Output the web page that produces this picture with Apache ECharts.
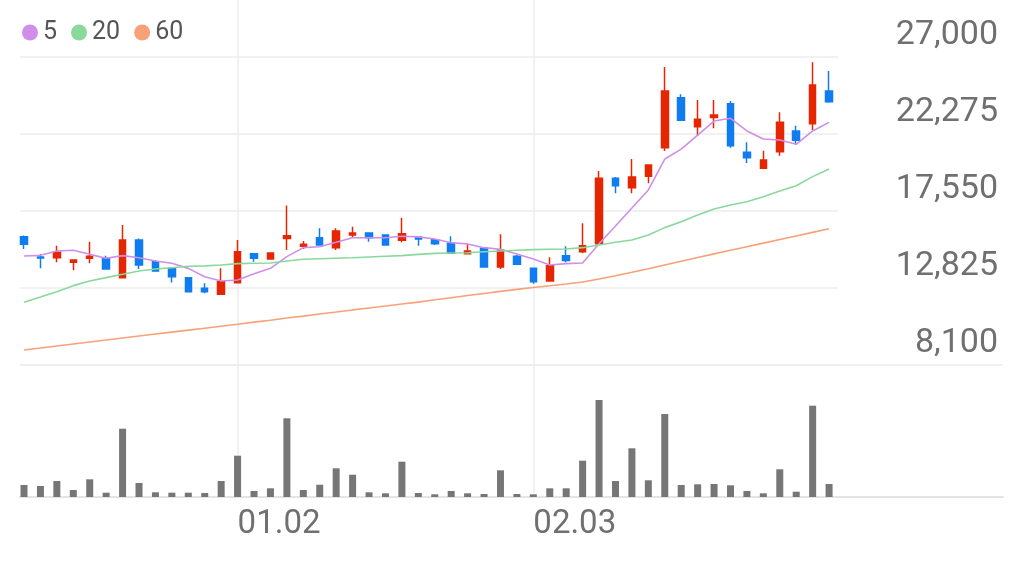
<!DOCTYPE html>
<html>
<head>
<meta charset="utf-8">
<script src="https://cdn.jsdelivr.net/npm/echarts@6/dist/echarts.min.js"></script>
<style>
html,body{margin:0;padding:0;background:#fff;}
#chart{width:1018px;height:562px;}
</style>
</head>
<body>
<div id="chart"></div>
<script>
const dates = ['12.11','12.12','12.13','12.16','12.17','12.18','12.19','12.20','12.23','12.24','12.26','12.27','12.30',
  '01.02','01.03','01.06','01.07','01.08','01.09','01.10','01.13','01.14','01.15','01.16','01.17','01.20','01.21','01.22','01.23','01.24','01.31',
  '02.03','02.04','02.05','02.06','02.07','02.10','02.11','02.12','02.13','02.14','02.17','02.18','02.19','02.20','02.21','02.24','02.25','02.26','02.27'];
const labelDates = ['01.02','02.03'];
const priceTicks = [8100, 12825, 17550, 22275, 27000];

const openP  = [15970,14730,14680,14400,14650,14650,13460,15770,14440,14030,13460,12810,12440,13150,14930,14600,15870,15380,15910,15300,16080,16200,16080,15750,15960,15790,15570,14930,15260,14110,14770,14030,13250,14810,15050,15540,19560,18980,19680,21430,24500,22720,23280,24130,21150,20170,21190,22460,22910,24910];
const closeP = [15510,14670,15020,14540,14770,13990,15770,14240,13870,13520,12600,12600,13210,15050,14650,14970,16030,15510,15460,16320,16200,15910,15460,16160,15830,15540,14950,15100,14110,15140,14280,13210,14190,14520,15420,19560,19100,19640,20370,24910,23120,23180,23440,21560,20820,20680,22990,21890,25280,24260];
const lowP   = [15220,14030,14400,13910,14340,13970,13440,13990,13850,13170,12560,12500,12430,13110,14440,14590,15160,15220,15450,15160,15910,15670,15420,15630,15420,15460,14910,14920,14100,13990,14270,13090,13240,14400,14970,15530,18640,18640,19250,21230,23110,22150,22630,21430,20500,20160,20940,21640,22500,24200];
const highP  = [16050,14910,15420,14550,15670,14810,16690,15870,14540,14050,13470,13110,14030,15770,14940,14980,17880,15710,16490,16490,16590,16210,16120,17140,15970,15800,16000,15510,15340,16120,14850,14050,14710,15380,16800,20000,19640,20740,20380,26390,24710,24360,24360,24300,21770,21250,23610,22780,26680,26140];

const ma5  = [14790,14830,15100,15140,14890,14650,14810,14680,14480,14340,14030,13520,13250,13320,13700,14030,14750,15300,15360,15630,15910,15910,15910,16000,15960,15830,15600,15530,15300,15200,14910,14600,14240,14320,14360,15540,16630,17730,18840,20740,21350,22210,23070,23240,22460,21970,21910,21640,22460,22990];
const ma20 = [11950,12270,12600,12970,13250,13460,13670,13870,13990,14070,14160,14180,14240,14320,14340,14360,14480,14590,14620,14650,14680,14730,14770,14810,14890,14950,14970,14990,15050,15100,15140,15180,15200,15220,15300,15460,15630,15770,16080,16530,16890,17310,17670,17920,18120,18430,18780,19100,19660,20130];
const ma60 = [9020,9140,9270,9390,9510,9630,9760,9880,10000,10120,10240,10360,10480,10600,10730,10850,10980,11100,11230,11350,11480,11600,11720,11840,11960,12100,12230,12360,12490,12620,12740,12860,12960,13070,13190,13380,13580,13790,14010,14240,14470,14700,14920,15140,15360,15580,15800,16020,16240,16460];

const volume = [120000,110000,160000,70000,177000,43000,683000,140000,47000,43000,43000,40000,160000,413000,60000,87000,787000,70000,123000,287000,223000,47000,37000,353000,40000,27000,60000,37000,30000,267000,30000,27000,87000,87000,363000,970000,160000,487000,167000,830000,120000,127000,130000,117000,60000,37000,277000,53000,913000,130000];

const UP = '#e52600', DOWN = '#0f7cf0';
const C5 = '#d08ee8', C20 = '#8ad89c', C60 = '#f8a179';
const GRIDC = '#ececec';
const TXT = '#707070';

const candles = dates.map((d, i) => [openP[i], closeP[i], lowP[i], highP[i]]);

const band = 16.43;
const nCat = dates.length;
const plotLeft = 24 - band / 2;
const plotW = band * nCat;

const chart = echarts.init(document.getElementById('chart'), null, {renderer: 'canvas'});
chart.setOption({
  animation: false,
  backgroundColor: '#fff',
  textStyle: {fontFamily: 'Roboto'},
  legend: {
    left: 17, top: 15,
    itemWidth: 16, itemHeight: 16, itemGap: 14,
    textStyle: {fontSize: 25, color: '#555', fontFamily: 'Roboto'},
    data: [{name: '5', icon: 'circle'}, {name: '20', icon: 'circle'}, {name: '60', icon: 'circle'}],
    selectedMode: false
  },
  grid: [
    {left: plotLeft, width: plotW, top: 57, height: 308},
    {left: plotLeft, width: plotW, top: 365, height: 132},
    {left: 20, width: 818, top: 57, height: 308},
    {left: 20, right: 15, top: 365, height: 132},
    {left: 24, width: band * (nCat - 1), top: 0, height: 497}
  ],
  xAxis: [
    {type: 'category', gridIndex: 0, data: dates, boundaryGap: true, show: false},
    {type: 'category', gridIndex: 1, data: dates, boundaryGap: true,
      axisLine: {show: false}, axisTick: {show: false}, splitLine: {show: false},
      axisLabel: {
        interval: (idx, val) => labelDates.includes(val),
        align: 'left', margin: 11, fontSize: 33, color: TXT, fontFamily: 'Roboto'
      }
    },
    {type: 'value', gridIndex: 2, show: false, min: 0, max: 1},
    {type: 'value', gridIndex: 3, min: 0, max: 1, position: 'bottom',
      axisLine: {show: true, lineStyle: {color: '#e4e4e4', width: 2}},
      axisTick: {show: false}, axisLabel: {show: false}, splitLine: {show: false}},
    {type: 'category', gridIndex: 4, data: dates, boundaryGap: false,
      axisLine: {show: false}, axisTick: {show: false}, axisLabel: {show: false},
      splitLine: {show: true, interval: (idx, val) => labelDates.includes(val),
        lineStyle: {color: GRIDC, width: 1.5}}}
  ],
  yAxis: [
    {type: 'value', gridIndex: 0, min: priceTicks[0], max: priceTicks[priceTicks.length - 1], show: false},
    {type: 'value', gridIndex: 1, min: 0, max: 1320000, show: false},
    {type: 'value', gridIndex: 2, position: 'right',
      min: priceTicks[0], max: priceTicks[priceTicks.length - 1], interval: priceTicks[1] - priceTicks[0],
      axisLine: {show: false}, axisTick: {show: false},
      splitLine: {show: true, lineStyle: {color: GRIDC, width: 1.5}},
      axisLabel: {
        align: 'right', margin: 160, verticalAlign: 'bottom', padding: [0, 0, 5, 0],
        fontSize: 34, color: TXT, fontFamily: 'Roboto',
        formatter: v => v.toLocaleString('en-US')
      }
    },
    {type: 'value', gridIndex: 3, min: 0, max: 1, interval: 1, show: true,
      axisLine: {show: false}, axisTick: {show: false}, axisLabel: {show: false},
      splitLine: {show: true, lineStyle: {color: GRIDC, width: 1.5}}},
    {type: 'value', gridIndex: 4, min: 0, max: 1, show: false}
  ],
  series: [
    {
      type: 'candlestick', name: 'price', xAxisIndex: 0, yAxisIndex: 0,
      data: candles, barWidth: 7,
      itemStyle: {color: UP, color0: DOWN, borderColor: UP, borderColor0: DOWN, borderWidth: 1.5},
      z: 3
    },
    {type: 'line', name: '5', xAxisIndex: 0, yAxisIndex: 0, data: ma5, showSymbol: false,
      lineStyle: {color: C5, width: 1.6}, itemStyle: {color: C5}, z: 4},
    {type: 'line', name: '20', xAxisIndex: 0, yAxisIndex: 0, data: ma20, showSymbol: false,
      lineStyle: {color: C20, width: 1.6}, itemStyle: {color: C20}, z: 4},
    {type: 'line', name: '60', xAxisIndex: 0, yAxisIndex: 0, data: ma60, showSymbol: false,
      lineStyle: {color: C60, width: 1.6}, itemStyle: {color: C60}, z: 4},
    {type: 'bar', name: 'vol', xAxisIndex: 1, yAxisIndex: 1, data: volume, barWidth: 7,
      itemStyle: {color: '#767676'}, z: 3}
  ]
});
</script>
</body>
</html>
